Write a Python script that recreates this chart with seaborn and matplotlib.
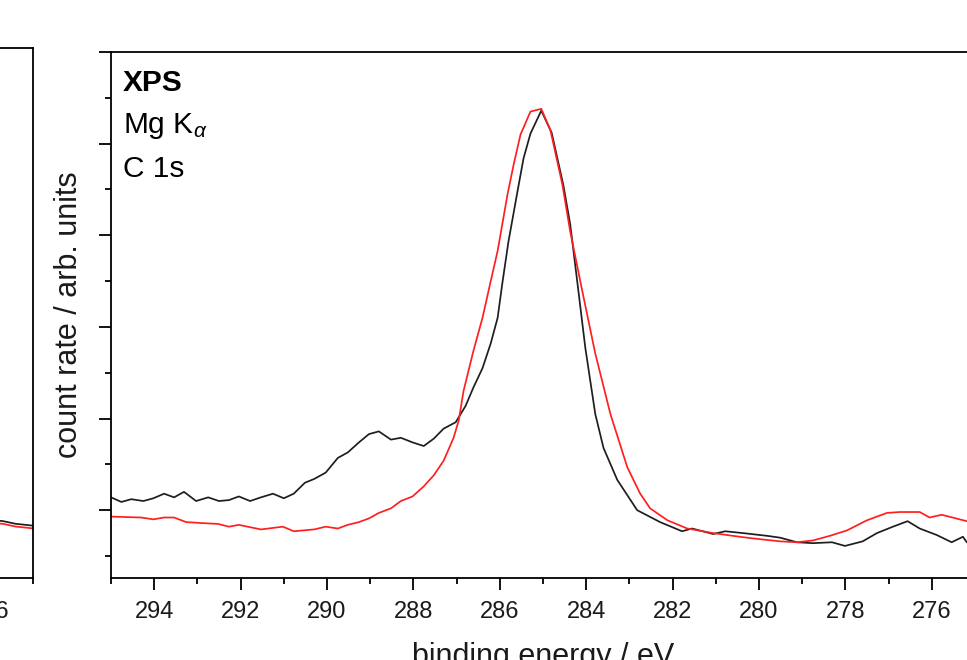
import matplotlib
matplotlib.use("Agg")
import matplotlib.pyplot as plt
import numpy as np
import pandas as pd
import seaborn as sns

# C 1s spectra, binding energy (eV) vs. count rate (arb. units)
black_energy = [295.00, 294.76, 294.53, 294.25, 294.02, 293.77, 293.54, 293.31, 293.03, 292.75,
                292.50, 292.27, 292.04, 291.78, 291.53, 291.25, 291.00, 290.77, 290.51, 290.30,
                290.03, 289.75, 289.52, 289.26, 289.03, 288.80, 288.52, 288.29, 288.02, 287.76,
                287.53, 287.30, 287.02, 286.79, 286.61, 286.40, 286.21, 286.05, 285.94, 285.80,
                285.59, 285.45, 285.29, 285.04, 284.80, 284.53, 284.37, 284.18, 284.02, 283.79,
                283.60, 283.28, 282.82, 282.29, 281.78, 281.55, 281.06, 280.78, 280.37, 279.81,
                279.51, 279.12, 278.75, 278.31, 278.01, 277.60, 277.27, 276.90, 276.56, 276.28,
                275.89, 275.54, 275.28, 275.19, 275.00]
black_counts = [0.14, 0.09, 0.12, 0.10, 0.13, 0.18, 0.14, 0.20, 0.10, 0.14,
                0.10, 0.11, 0.15, 0.10, 0.14, 0.18, 0.13, 0.18, 0.30, 0.34,
                0.41, 0.57, 0.63, 0.74, 0.83, 0.86, 0.77, 0.79, 0.74, 0.70,
                0.78, 0.89, 0.96, 1.14, 1.34, 1.55, 1.82, 2.10, 2.48, 2.93,
                3.48, 3.84, 4.11, 4.36, 4.12, 3.55, 3.12, 2.39, 1.77, 1.05,
                0.68, 0.33, 0.00, -0.13, -0.23, -0.20, -0.26, -0.23, -0.25, -0.28,
                -0.30, -0.35, -0.36, -0.35, -0.39, -0.34, -0.25, -0.18, -0.12, -0.20,
                -0.27, -0.35, -0.29, -0.35, -0.36]

red_energy = [295.00, 294.30, 294.02, 293.77, 293.54, 293.26, 292.91, 292.52, 292.27, 292.04,
              291.53, 291.02, 290.77, 290.30, 290.03, 289.75, 289.52, 289.26, 289.03, 288.80,
              288.52, 288.29, 288.02, 287.76, 287.53, 287.30, 287.07, 286.95, 286.84, 286.61,
              286.40, 286.21, 286.05, 285.82, 285.68, 285.52, 285.29, 285.04, 284.83, 284.55,
              284.37, 284.09, 283.79, 283.44, 283.05, 282.75, 282.52, 282.12, 281.66, 281.06,
              280.60, 280.28, 279.91, 279.51, 279.12, 278.75, 278.36, 277.96, 277.50, 277.04,
              276.74, 276.28, 276.05, 275.77, 275.52, 275.19, 275.00]
red_counts = [-0.07, -0.08, -0.10, -0.08, -0.08, -0.13, -0.14, -0.15, -0.18, -0.16,
              -0.21, -0.18, -0.23, -0.21, -0.18, -0.20, -0.16, -0.13, -0.09, -0.03,
              0.02, 0.10, 0.15, 0.26, 0.38, 0.54, 0.79, 0.98, 1.30, 1.74,
              2.10, 2.50, 2.83, 3.45, 3.77, 4.10, 4.35, 4.38, 4.15, 3.55,
              3.04, 2.39, 1.71, 1.05, 0.47, 0.18, 0.02, -0.11, -0.20, -0.25,
              -0.28, -0.30, -0.32, -0.34, -0.35, -0.33, -0.28, -0.22, -0.11, -0.03,
              -0.02, -0.02, -0.08, -0.05, -0.08, -0.12, -0.13]

# neighbouring panel (only its low-energy end is in view)
left_energy = [276.2, 276.0, 275.7, 275.4, 275.0]
left_black = [-0.10, -0.11, -0.12, -0.15, -0.17]
left_red = [-0.13, -0.14, -0.15, -0.18, -0.20]

x_major = list(range(276, 295, 2))
x_minor = list(range(275, 296, 2))
y_major = [0, 1, 2, 3, 4, 5]
y_minor = [-0.5, 0.5, 1.5, 2.5, 3.5, 4.5]

sns.set_theme(style="ticks")
plt.rcParams["font.family"] = ["Liberation Sans", "DejaVu Sans"]
plt.rcParams["mathtext.fontset"] = "custom"
plt.rcParams["mathtext.rm"] = "Liberation Sans"
plt.rcParams["mathtext.it"] = "Liberation Sans:italic"
plt.rcParams["axes.linewidth"] = 1.3
plt.rcParams["axes.edgecolor"] = "black"

BLACK = "#1e1e1e"
RED = "#ff1f1f"

fig = plt.figure(figsize=(9.67, 6.6), dpi=100)
fig.patch.set_facecolor("white")

W, H = 967.0, 660.0
ax = fig.add_axes([111 / W, 82 / H, 864 / W, 526 / H])
axl = fig.add_axes([-833 / W, 82 / H, 866 / W, 530 / H])

df_black = pd.DataFrame({"energy": black_energy, "counts": black_counts})
df_red = pd.DataFrame({"energy": red_energy, "counts": red_counts})
df_lb = pd.DataFrame({"energy": left_energy, "counts": left_black})
df_lr = pd.DataFrame({"energy": left_energy, "counts": left_red})

sns.lineplot(data=df_black, x="energy", y="counts", color=BLACK, lw=1.25, ax=ax,
             errorbar=None, legend=False)
sns.lineplot(data=df_red, x="energy", y="counts", color=RED, lw=1.25, ax=ax,
             errorbar=None, legend=False)
sns.lineplot(data=df_lb, x="energy", y="counts", color=BLACK, lw=1.25, ax=axl,
             errorbar=None, legend=False)
sns.lineplot(data=df_lr, x="energy", y="counts", color=RED, lw=1.25, ax=axl,
             errorbar=None, legend=False)

for a, top in ((ax, 5.0), (axl, 5.03)):
    a.set_xlim(295, 275)
    a.set_ylim(-0.74, top)
    a.set_xticks(x_major)
    a.set_xticks(x_minor, minor=True)
    a.set_xticklabels([str(v) for v in x_major])
    a.set_yticks(y_major)
    a.set_yticks(y_minor, minor=True)
    a.set_yticklabels([])
    a.tick_params(axis="both", which="major", direction="out", length=8.5, width=1.3,
                  color="black", labelsize=17, labelcolor="#1a1a1a", pad=8)
    a.tick_params(axis="both", which="minor", direction="out", length=4.3, width=1.3,
                  color="black")
    a.set_xlabel("")
    a.set_ylabel("")
    a.set_facecolor("white")

axl.tick_params(axis="y", which="both", left=False, right=False)

ax.set_xlabel("binding energy / eV", fontsize=22, color="#1a1a1a")
ax.xaxis.set_label_coords(0.5, -0.122)
ax.set_ylabel("count rate / arb. units", fontsize=22, color="#1a1a1a")
ax.yaxis.set_label_coords(-0.031, 0.5)

tx = 12 / 864
ax.text(tx, 0.926, "XPS", transform=ax.transAxes, fontsize=21.5, fontweight="bold",
        va="baseline", ha="left", color="black")
ax.text(tx, 0.846, r"Mg K$_{\alpha}$", transform=ax.transAxes, fontsize=21.5,
        va="baseline", ha="left", color="black")
ax.text(tx, 0.762, "C 1s", transform=ax.transAxes, fontsize=21.5,
        va="baseline", ha="left", color="black")

fig.savefig("out.png", dpi=100, facecolor="white")
